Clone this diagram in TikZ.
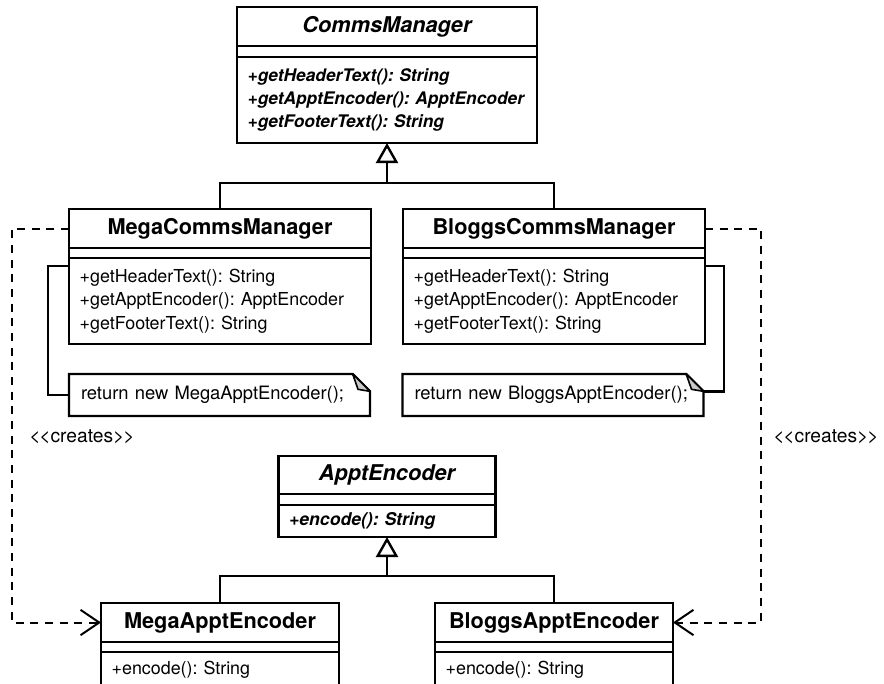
\documentclass[tikz,border=0pt]{standalone}
\usepackage{fontspec}
\setmainfont{TeX Gyre Heros}
\usetikzlibrary{positioning,arrows.meta}
\definecolor{foldgray}{RGB}{200,200,200}
\frenchspacing
\hyphenpenalty=10000

\tikzset{
	box/.style={draw, line width=1.8pt, outer sep=0pt, inner xsep=8pt, inner ysep=0pt},
	classname/.style={box, anchor=north, text width=#1, align=center, minimum height=29.25pt, font=\fontsize{16.3}{19}\selectfont\bfseries},
	classattr/.style={box, text width=#1, minimum height=7.5pt, font=\fontsize{1}{1}\selectfont},
	classops/.style={box, text width=#1, align=left, font=\fontsize{13.4}{17.5}\selectfont},
	note/.style={outer sep=0pt, inner xsep=9pt, inner ysep=0pt, text width=207.75pt, minimum height=31.5pt, align=left, font=\fontsize{13.8}{16}\selectfont},
	stereo/.style={inner sep=0pt, anchor=west, font=\fontsize{14.4}{16}\selectfont},
	link/.style={line width=1.8pt},
	creates/.style={line width=1.5pt, dash pattern=on 6pt off 5pt, -{Straight Barb[length=14pt, width=19pt]}},
	extends/.style={line width=1.8pt, -{Triangle[fill=white, length=15pt, width=16.5pt]}}
}

\begin{document}
\begin{tikzpicture}[x=0.75pt, y=-0.75pt]
	\clip (0,0) rectangle (884,683);
	% abstract creator
	\node[classname=209pt] (cm) at (387,7) {\itshape CommsManager};
	\node[classattr=209pt, below=0pt of cm, minimum height=8.25pt] (cmattr) {};
	\node[classops=209pt, below=0pt of cmattr, minimum height=64.5pt, font=\fontsize{13}{17.5}\selectfont\bfseries\itshape] (cmops) {+getHeaderText(): String\\+getApptEncoder(): ApptEncoder\\+getFooterText(): String};
	% concrete creators
	\node[classname=210.5pt] (mcm) at (220,209) {MegaCommsManager};
	\node[classattr=210.5pt, below=0pt of mcm] (mcmattr) {};
	\node[classops=210.5pt, below=0pt of mcmattr, minimum height=64.5pt] (mcmops) {+getHeaderText(): String\\+getApptEncoder(): ApptEncoder\\+getFooterText(): String};
	\node[classname=210.5pt] (bcm) at (554,209) {BloggsCommsManager};
	\node[classattr=210.5pt, below=0pt of bcm] (bcmattr) {};
	\node[classops=210.5pt, below=0pt of bcmattr, minimum height=64.5pt] (bcmops) {+getHeaderText(): String\\+getApptEncoder(): ApptEncoder\\+getFooterText(): String};
	% notes
	\node[note] (mnote) at (219.5,395) {return new MegaApptEncoder();};
	\node[note] (bnote) at (553,395) {return new BloggsApptEncoder();};
	\foreach \n in {mnote,bnote} {
		\draw[link, line join=miter] (\n.north west) -- ([xshift=-13pt]\n.north east) -- ([yshift=-13pt]\n.north east) -- (\n.south east) -- (\n.south west) -- cycle;
		\filldraw[line width=1.2pt, fill=foldgray, line join=round] ([xshift=-13pt]\n.north east) -- ([xshift=-9pt, yshift=-11.5pt]\n.north east) -- ([yshift=-13pt]\n.north east) -- cycle;
	}
	% abstract product
	\node[classname=146.75pt, minimum height=28.5pt] (ae) at (387,456) {\itshape ApptEncoder};
	\node[classattr=146.75pt, below=0pt of ae, minimum height=8.25pt] (aeattr) {};
	\node[classops=146.75pt, below=0pt of aeattr, minimum height=24pt, font=\fontsize{13.2}{17.5}\selectfont\bfseries\itshape] (aeops) {+encode(): String};
	% concrete products
	\node[classname=162.5pt] (mae) at (220,603) {MegaApptEncoder};
	\node[classattr=162.5pt, below=0pt of mae] (maeattr) {};
	\node[classops=162.5pt, below=0pt of maeattr, minimum height=26pt] (maeops) {+encode(): String};
	\node[classname=162.5pt] (bae) at (554,603) {BloggsApptEncoder};
	\node[classattr=162.5pt, below=0pt of bae] (baeattr) {};
	\node[classops=162.5pt, below=0pt of baeattr, minimum height=26pt] (baeops) {+encode(): String};
	% generalisation
	\coordinate (cmjoin) at (387,183);
	\coordinate (aejoin) at (387,576);
	\draw[link] (mcm.north) |- (cmjoin) -| (bcm.north);
	\draw[extends] (cmjoin) -- (cmops.south);
	\draw[link] (mae.north) |- (aejoin) -| (bae.north);
	\draw[extends] (aejoin) -- (aeops.south);
	% note links
	\draw[link] ([yshift=-6pt]mcmops.north west) -- ++(-21,0) |- (mnote.west);
	\draw[link] ([yshift=-6pt]bcmops.north east) -- ++(19,0) |- ([yshift=-13pt]bnote.north east);
	% creates
	\coordinate (mleft) at (12,0);
	\coordinate (bright) at (761,0);
	\draw[creates] (mcm.west) -- (mcm.west -| mleft) -- (mae.west -| mleft) -- (mae.west);
	\draw[creates] (bcm.east) -- (bcm.east -| bright) -- (bae.east -| bright) -- (bae.east);
	\node[stereo] (mcreates) at (29,437) {<\kern-0.8pt<creates>\kern-0.8pt>};
	\node[stereo] (bcreates) at (773,437) {<\kern-0.8pt<creates>\kern-0.8pt>};
\end{tikzpicture}
\end{document}
